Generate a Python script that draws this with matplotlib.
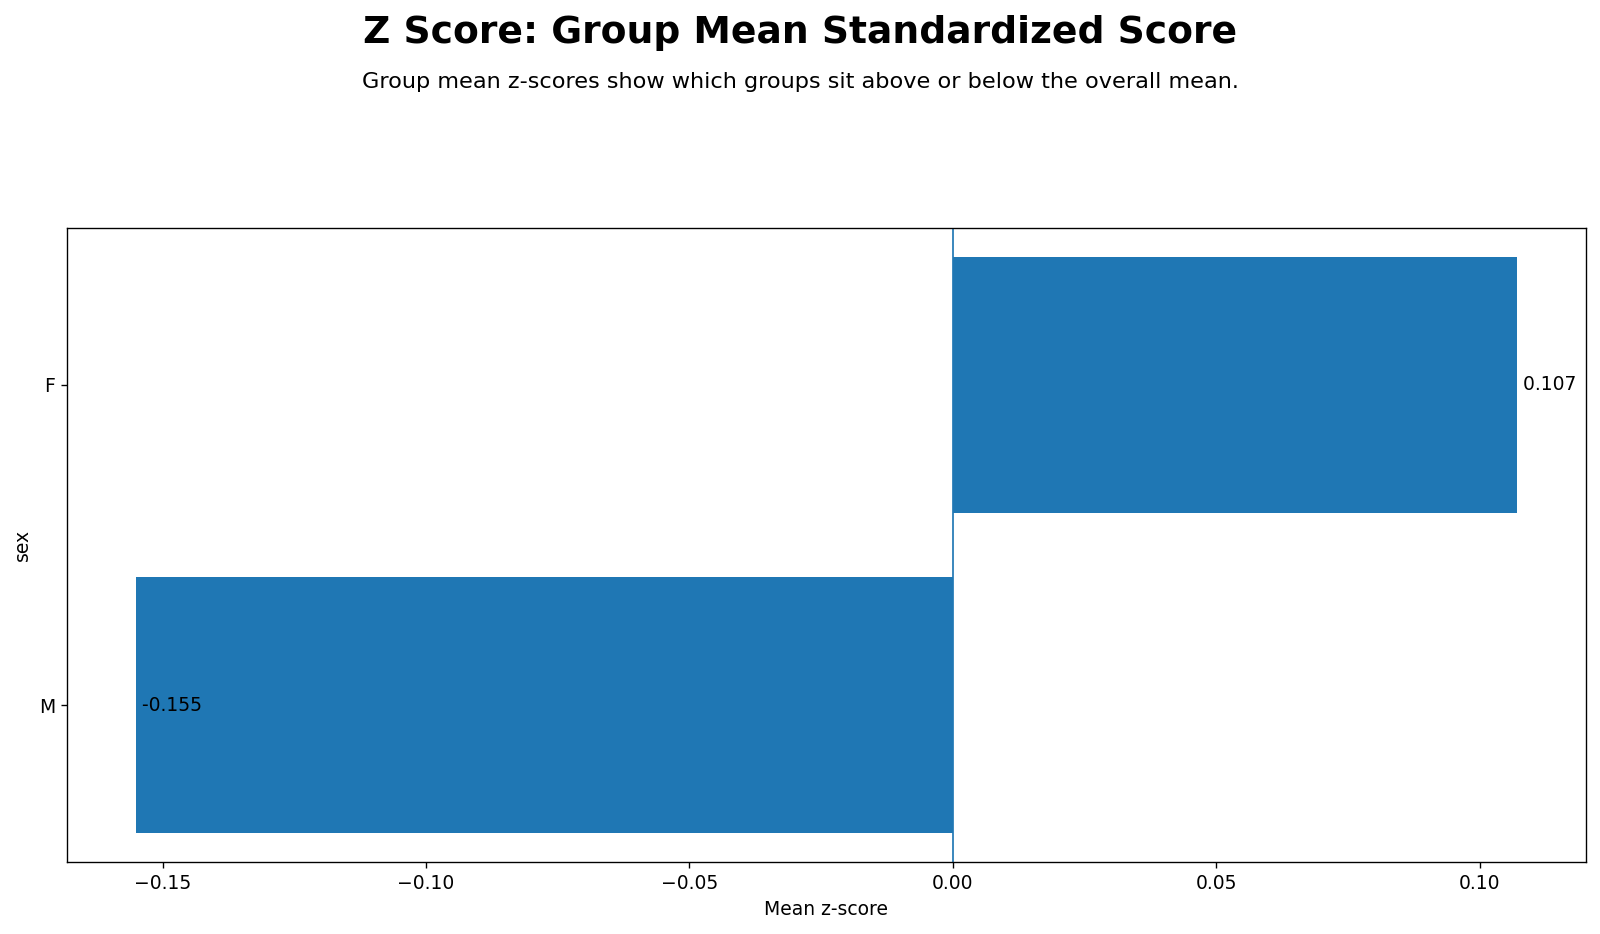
import matplotlib
matplotlib.use("Agg")
import matplotlib.pyplot as plt

# group means of the standardized score
groups = ["M", "F"]
mean_z = [-0.155, 0.107]

DPI = 123
fig = plt.figure(figsize=(1600 / DPI, 934 / DPI), dpi=DPI)
ax = fig.add_axes([0.042, 0.077, 0.949, 0.679])

ax.barh(groups, mean_z, color="#1f77b4")
ax.axvline(0, color="#1f77b4", linewidth=1)

# value labels just right of each bar end
for g, v in zip(groups, mean_z):
    ax.text(v, g, f" {v:.3f}", va="center", ha="left", fontsize=11)

ax.set_xlabel("Mean z-score", fontsize=11)
ax.set_ylabel("sex", fontsize=11)
ax.tick_params(labelsize=11)

fig.text(0.5, 0.965, "Z Score: Group Mean Standardized Score",
         ha="center", va="center", fontsize=22, fontweight="bold")
fig.text(0.5, 0.912, "Group mean z-scores show which groups sit above or below the overall mean.",
         ha="center", va="center", fontsize=13.1)

fig.savefig("out.png", dpi=DPI)
